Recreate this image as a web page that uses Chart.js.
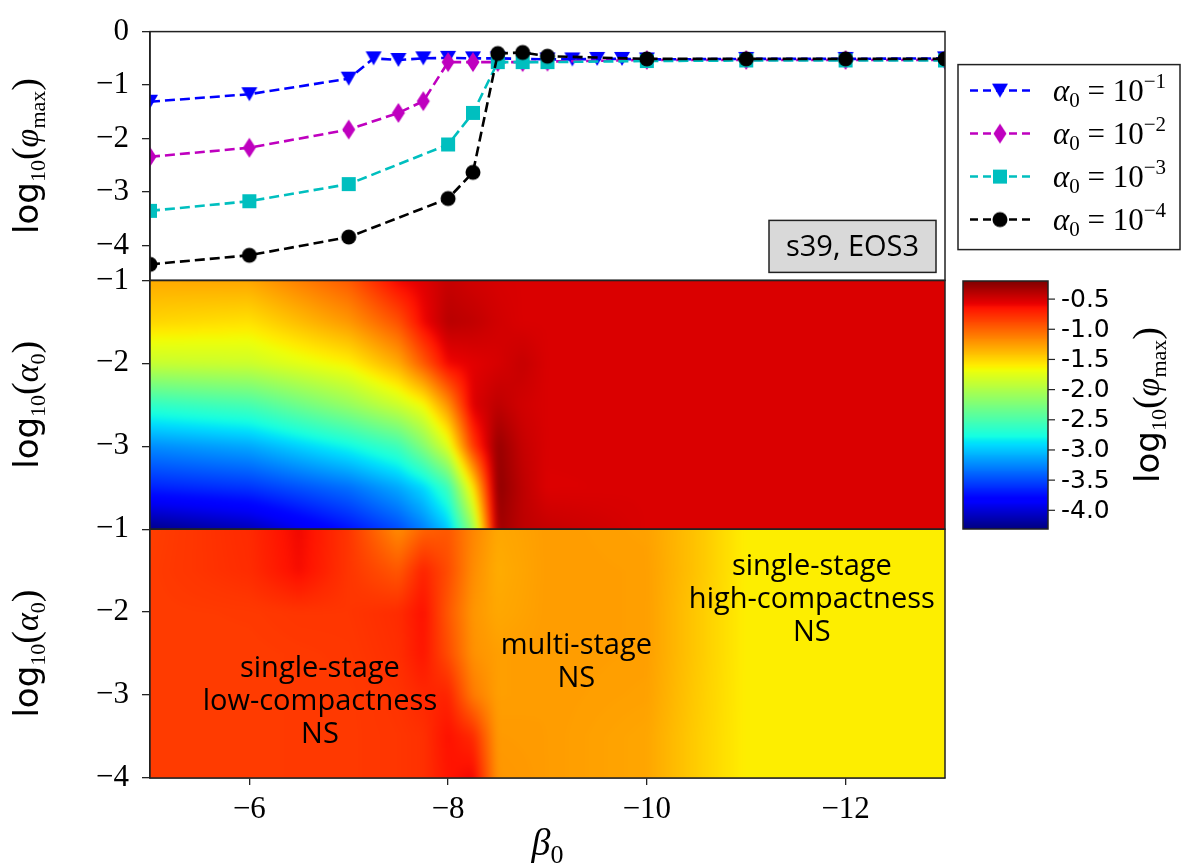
<!DOCTYPE html>
<html>
<head>
<meta charset="utf-8">
<title>s39, EOS3 scan</title>
<script src="https://cdn.jsdelivr.net/npm/chart.js@4.4.1/dist/chart.umd.min.js"></script>
<style>
  html, body { margin: 0; padding: 0; background: #fff; }
  canvas { display: block; }
</style>
</head>
<body>
<canvas id="scan" width="1183" height="865"></canvas>
<script>
// ---- top panel: log10(phi_max) vs beta_0 for each alpha_0 ----
const betaA1 = [-5, -6, -7, -7.25, -7.5, -7.75, -8, -8.25, -8.5, -8.75, -9, -9.25, -9.5, -9.75, -10, -11, -12, -13];
const phiA1  = [-1.31, -1.17, -0.88, -0.50, -0.53, -0.50, -0.49, -0.50, -0.50, -0.51, -0.52, -0.52, -0.51, -0.51, -0.52, -0.51, -0.51, -0.50];
const betaA2 = [-5, -6, -7, -7.5, -7.75, -8, -8.25, -8.5, -8.75, -9, -10, -11, -12, -13];
const phiA2  = [-2.34, -2.17, -1.83, -1.52, -1.30, -0.57, -0.57, -0.57, -0.57, -0.56, -0.53, -0.53, -0.53, -0.53];
const betaA3 = [-5, -6, -7, -8, -8.25, -8.5, -8.75, -9, -10, -11, -12, -13];
const phiA3  = [-3.35, -3.17, -2.85, -2.11, -1.52, -0.57, -0.57, -0.57, -0.55, -0.54, -0.54, -0.54];
const betaA4 = [-5, -6, -7, -8, -8.25, -8.5, -8.75, -9, -10, -11, -12, -13];
const phiA4  = [-4.35, -4.18, -3.84, -3.12, -2.63, -0.41, -0.39, -0.46, -0.51, -0.51, -0.51, -0.51];
const alphaExp = [1, 2, 3, 4];

// ---- middle panel: log10(phi_max) map ----
const midBeta  = [-5, -6, -7, -7.5, -7.75, -8, -8.25, -8.5, -8.75, -9, -10, -11, -12, -13];
const midAlpha = [-1, -1.5, -2, -2.5, -3, -3.5, -4];
const midPhi = [
  [-1.31, -1.29, -0.96, -0.60, -0.54, -0.45, -0.49, -0.51, -0.52, -0.52, -0.52, -0.52, -0.52, -0.52],
  [-1.50, -1.55, -1.23, -0.92, -0.60, -0.40, -0.43, -0.49, -0.52, -0.52, -0.52, -0.52, -0.52, -0.52],
  [-1.88, -1.85, -1.62, -1.31, -0.96, -0.60, -0.55, -0.51, -0.45, -0.52, -0.52, -0.52, -0.52, -0.52],
  [-2.63, -2.52, -2.12, -1.85, -1.66, -1.20, -0.53, -0.42, -0.49, -0.52, -0.52, -0.52, -0.52, -0.52],
  [-3.23, -3.12, -2.79, -2.56, -2.22, -1.77, -0.82, -0.28, -0.45, -0.52, -0.52, -0.52, -0.52, -0.52],
  [-3.67, -3.59, -3.35, -3.12, -2.93, -2.58, -1.57, -0.25, -0.42, -0.53, -0.52, -0.52, -0.52, -0.52],
  [-4.27, -4.11, -3.73, -3.49, -3.28, -2.99, -2.12, -0.31, -0.42, -0.45, -0.52, -0.52, -0.52, -0.52]
];

// ---- bottom panel: classification map ----
const botBeta  = [-5, -6, -6.5, -7, -7.5, -7.75, -8, -8.25, -8.5, -9, -10, -10.5, -11, -12, -13];
const botAlpha = [-1, -1.5, -2, -2.5, -3, -3.5, -4];
const botPhi = [
  [-0.84, -0.75, -0.60, -0.80, -1.18, -1.00, -0.95, -1.15, -1.30, -1.25, -1.27, -1.42, -1.61, -1.61, -1.61],
  [-0.83, -0.76, -0.62, -0.80, -0.95, -0.72, -0.90, -1.18, -1.32, -1.25, -1.26, -1.42, -1.61, -1.61, -1.61],
  [-0.83, -0.82, -0.80, -0.80, -0.76, -0.64, -0.95, -1.22, -1.30, -1.25, -1.26, -1.44, -1.61, -1.61, -1.61],
  [-0.83, -0.83, -0.82, -0.81, -0.77, -0.66, -0.90, -1.20, -1.26, -1.25, -1.26, -1.44, -1.61, -1.61, -1.61],
  [-0.83, -0.83, -0.82, -0.82, -0.79, -0.74, -0.72, -1.10, -1.26, -1.25, -1.27, -1.45, -1.61, -1.61, -1.61],
  [-0.83, -0.83, -0.82, -0.82, -0.80, -0.78, -0.64, -0.75, -1.24, -1.25, -1.29, -1.46, -1.61, -1.61, -1.61],
  [-0.83, -0.83, -0.82, -0.82, -0.80, -0.78, -0.66, -0.60, -1.22, -1.25, -1.29, -1.46, -1.61, -1.61, -1.61]
];

// ---- ticks ----
const xTicks = [-6, -8, -10, -12];
const topTicks = [0, -1, -2, -3, -4];
const midTicks = [-1, -2, -3];
const botTicks = [-1, -2, -3, -4];
const cbarTicks = [-0.5, -1.0, -1.5, -2.0, -2.5, -3.0, -3.5, -4.0];
const cbarMin = -4.31, cbarMax = -0.20;

const regionNotes = [
  { lines: ['single-stage', 'low-compactness', 'NS'], beta: -6.71, alpha: -2.68 },
  { lines: ['multi-stage', 'NS'], beta: -9.29, alpha: -2.41 },
  { lines: ['single-stage', 'high-compactness', 'NS'], beta: -11.66, alpha: -1.45 }
];

const SERIF = "'Liberation Serif', 'DejaVu Serif', serif";
const SANS = "'DejaVu Sans', sans-serif";
const NOTE = "'Open Sans', 'DejaVu Sans', sans-serif";

// matplotlib jet
const jetR = [[0, 0], [0.35, 0], [0.66, 1], [0.89, 1], [1, 0.5]];
const jetG = [[0, 0], [0.125, 0], [0.375, 1], [0.64, 1], [0.91, 0], [1, 0]];
const jetB = [[0, 0.5], [0.11, 1], [0.34, 1], [0.65, 0], [1, 0]];
function seg(s, t) {
  for (let i = 1; i < s.length; i++) {
    if (t <= s[i][0]) {
      const a = s[i - 1], b = s[i];
      return a[1] + (b[1] - a[1]) * (t - a[0]) / (b[0] - a[0]);
    }
  }
  return s[s.length - 1][1];
}
const LUT = [];
for (let i = 0; i < 512; i++) {
  const t = i / 511;
  LUT.push([Math.round(seg(jetR, t) * 255), Math.round(seg(jetG, t) * 255), Math.round(seg(jetB, t) * 255)]);
}
function jet(v) {
  let t = (v - cbarMin) / (cbarMax - cbarMin);
  t = Math.max(0, Math.min(1, t));
  return LUT[Math.round(t * 511)];
}

// arr is decreasing
function bracket(arr, v) {
  const n = arr.length;
  if (v >= arr[0]) return [0, 0];
  if (v <= arr[n - 1]) return [n - 2, 1];
  for (let j = 0; j < n - 1; j++) {
    if (v <= arr[j] && v >= arr[j + 1]) return [j, (arr[j] - v) / (arr[j] - arr[j + 1])];
  }
  return [n - 2, 1];
}

function paintHeat(chart, ys, betas, alphas, grid) {
  const xs = chart.scales.x, a = chart.chartArea, ctx = chart.ctx;
  const pad = 12;
  const L = Math.round(a.left), R = Math.round(a.right), T = Math.round(ys.top), B = Math.round(ys.bottom);
  const w = R - L + 2 * pad, h = B - T + 2 * pad;
  const off = document.createElement('canvas');
  off.width = w; off.height = h;
  const octx = off.getContext('2d');
  const img = octx.createImageData(w, h);
  const cols = [], rows = [];
  for (let i = 0; i < w; i++) cols.push(bracket(betas, xs.getValueForPixel(L - pad + i + 0.5)));
  for (let k = 0; k < h; k++) rows.push(bracket(alphas, ys.getValueForPixel(T - pad + k + 0.5)));
  let p = 0;
  for (let k = 0; k < h; k++) {
    const [r, fr] = rows[k];
    const g0 = grid[r], g1 = grid[r + 1];
    for (let i = 0; i < w; i++) {
      const [c, fc] = cols[i];
      const top = g0[c] + (g0[c + 1] - g0[c]) * fc;
      const bot = g1[c] + (g1[c + 1] - g1[c]) * fc;
      const col = jet(top + (bot - top) * fr);
      img.data[p++] = col[0]; img.data[p++] = col[1]; img.data[p++] = col[2]; img.data[p++] = 255;
    }
  }
  octx.putImageData(img, 0, 0);
  ctx.save();
  ctx.beginPath();
  ctx.rect(L, T, R - L, B - T);
  ctx.clip();
  ctx.filter = 'blur(3px)';
  ctx.drawImage(off, L - pad, T - pad);
  ctx.restore();
}

function markerCanvas(shape, color) {
  const c = document.createElement('canvas');
  c.width = 20; c.height = 22;
  const g = c.getContext('2d');
  const cx = 10, cy = 11;
  g.fillStyle = color;
  g.beginPath();
  if (shape === 'tri') { g.moveTo(cx - 8, cy - 7); g.lineTo(cx + 8, cy - 7); g.lineTo(cx, cy + 7); }
  else if (shape === 'dia') { g.moveTo(cx, cy - 10); g.lineTo(cx + 6.5, cy); g.lineTo(cx, cy + 10); g.lineTo(cx - 6.5, cy); }
  else if (shape === 'sq') { g.rect(cx - 7, cy - 7, 14, 14); }
  else { g.arc(cx, cy, 7.5, 0, Math.PI * 2); }
  g.closePath();
  g.fill();
  return c;
}

const series = [
  { beta: betaA1, phi: phiA1, color: '#0000ff', marker: markerCanvas('tri', '#0000ff') },
  { beta: betaA2, phi: phiA2, color: '#bf00bf', marker: markerCanvas('dia', '#bf00bf') },
  { beta: betaA3, phi: phiA3, color: '#00bfbf', marker: markerCanvas('sq', '#00bfbf') },
  { beta: betaA4, phi: phiA4, color: '#000000', marker: markerCanvas('dot', '#000000') }
];

function rich(ctx, parts, x, y, rot, align) {
  ctx.save();
  ctx.translate(x, y);
  if (rot) ctx.rotate(rot);
  ctx.textBaseline = 'alphabetic';
  ctx.textAlign = 'left';
  ctx.fillStyle = '#000';
  let total = 0;
  const widths = parts.map(p => { ctx.font = p.font; const w = ctx.measureText(p.text).width; total += w; return w; });
  let cx = align === 'left' ? 0 : -total / 2;
  parts.forEach((p, i) => { ctx.font = p.font; ctx.fillText(p.text, cx, p.dy || 0); cx += widths[i]; });
  ctx.restore();
}

function logParts(sym, sub) {
  return [
    { text: 'log', font: `34px ${SANS}` },
    { text: '10', font: `22px ${SERIF}`, dy: 7 },
    { text: '(', font: `38px ${SERIF}` },
    { text: sym, font: `italic 34px ${SERIF}` },
    { text: sub, font: `22px ${SERIF}`, dy: 7 },
    { text: ')', font: `38px ${SERIF}` }
  ];
}

function drawLegend(chart) {
  const ctx = chart.ctx, a = chart.chartArea, t = chart.scales.yTop;
  const L = a.right + 13, T = t.top + 33, W = 222, H = 185;
  ctx.save();
  ctx.fillStyle = '#fff';
  ctx.fillRect(L, T, W, H);
  ctx.strokeStyle = '#222';
  ctx.lineWidth = 1.5;
  ctx.strokeRect(L, T, W, H);
  series.forEach((s, i) => {
    const y = T + 26 + i * 43;
    ctx.strokeStyle = s.color;
    ctx.lineWidth = 2.5;
    ctx.setLineDash([8, 5]);
    ctx.beginPath();
    ctx.moveTo(L + 12, y);
    ctx.lineTo(L + 72, y);
    ctx.stroke();
    ctx.setLineDash([]);
    ctx.drawImage(s.marker, L + 42 - s.marker.width / 2, y - s.marker.height / 2);
    rich(ctx, [
      { text: 'α', font: `italic 31px ${SERIF}` },
      { text: '0', font: `21px ${SERIF}`, dy: 6 },
      { text: ' = 10', font: `31px ${SERIF}` },
      { text: '\u2212' + alphaExp[i], font: `21px ${SERIF}`, dy: -13 }
    ], L + 95, y + 10, 0, 'left');
  });
  ctx.restore();
}

function drawColorbar(chart) {
  const ctx = chart.ctx, a = chart.chartArea, m = chart.scales.yMid;
  const L = a.right + 18, R = L + 85, T = Math.round(m.top) + 1, B = Math.round(m.bottom);
  const px = v => B - (v - cbarMin) / (cbarMax - cbarMin) * (B - T);
  ctx.save();
  for (let y = T; y < B; y++) {
    const v = cbarMin + (B - y - 0.5) / (B - T) * (cbarMax - cbarMin);
    const c = jet(v);
    ctx.fillStyle = `rgb(${c[0]},${c[1]},${c[2]})`;
    ctx.fillRect(L, y, R - L, 1);
  }
  ctx.strokeStyle = '#222';
  ctx.lineWidth = 1.5;
  ctx.strokeRect(L, T, R - L, B - T);
  ctx.font = `25px ${SANS}`;
  ctx.fillStyle = '#000';
  ctx.textAlign = 'left';
  ctx.textBaseline = 'middle';
  ctx.lineWidth = 1.2;
  cbarTicks.forEach(v => {
    const y = px(v);
    ctx.beginPath();
    ctx.moveTo(R, y);
    ctx.lineTo(R + 7, y);
    ctx.stroke();
    ctx.fillText(v.toFixed(1), R + 13, y + 1);
  });
  ctx.restore();
  rich(ctx, logParts('φ', 'max'), 1159, (T + B) / 2, -Math.PI / 2);
}

function drawNotes(chart) {
  const ctx = chart.ctx, xs = chart.scales.x, ys = chart.scales.yBot;
  ctx.save();
  ctx.font = `29px ${NOTE}`;
  ctx.fillStyle = '#000';
  ctx.textAlign = 'center';
  ctx.textBaseline = 'middle';
  regionNotes.forEach(n => {
    const x = xs.getPixelForValue(n.beta), y = ys.getPixelForValue(n.alpha);
    n.lines.forEach((line, i) => ctx.fillText(line, x, y + i * 33));
  });
  ctx.restore();
}

function drawTag(chart) {
  const ctx = chart.ctx, a = chart.chartArea, t = chart.scales.yTop;
  const R = a.right - 9, B = t.bottom - 8, W = 167, H = 52;
  ctx.save();
  ctx.fillStyle = '#d9d9d9';
  ctx.fillRect(R - W, B - H, W, H);
  ctx.strokeStyle = '#222';
  ctx.lineWidth = 1.5;
  ctx.strokeRect(R - W, B - H, W, H);
  ctx.fillStyle = '#000';
  ctx.font = `29px ${NOTE}`;
  ctx.textAlign = 'center';
  ctx.textBaseline = 'middle';
  ctx.fillText('s39, EOS3', R - W / 2, B - H / 2 + 1);
  ctx.restore();
}

const panelPlugin = {
  id: 'panels',
  beforeDatasetsDraw(chart) {
    paintHeat(chart, chart.scales.yMid, midBeta, midAlpha, midPhi);
    paintHeat(chart, chart.scales.yBot, botBeta, botAlpha, botPhi);
  },
  afterDraw(chart) {
    const ctx = chart.ctx, a = chart.chartArea;
    ctx.save();
    ctx.strokeStyle = '#222';
    ctx.lineWidth = 1.5;
    ['yTop', 'yMid', 'yBot'].forEach(id => {
      const s = chart.scales[id];
      ctx.strokeRect(a.left, s.top, a.right - a.left, s.bottom - s.top);
    });
    ctx.restore();
    drawTag(chart);
    drawNotes(chart);
    drawLegend(chart);
    drawColorbar(chart);
    ['yTop', 'yMid', 'yBot'].forEach(id => {
      const s = chart.scales[id];
      const parts = id === 'yTop' ? logParts('φ', 'max') : logParts('α', '0');
      rich(ctx, parts, 38, (s.top + s.bottom) / 2, -Math.PI / 2);
    });
    rich(ctx, [
      { text: 'β', font: `italic 38px ${SERIF}` },
      { text: '0', font: `26px ${SERIF}`, dy: 8 }
    ], (a.left + a.right) / 2, 855, 0);
  }
};

const fmtTick = v => (v === 0 ? '0' : '\u2212' + Math.abs(v));

function panelAxis(min, max, ticks, weight) {
  return {
    type: 'linear', position: 'left', stack: 'panels', stackWeight: 1, weight: weight,
    min: min, max: max,
    afterBuildTicks: s => { s.ticks = ticks.map(v => ({ value: v })); },
    afterFit: s => { s.width = 150; },
    ticks: { font: { family: SERIF, size: 31 }, color: '#000', padding: 13, autoSkip: false, callback: fmtTick },
    grid: { drawOnChartArea: false, drawTicks: true, tickLength: 8, color: '#222', lineWidth: 1.3 },
    border: { display: true, color: '#222', width: 1.5 }
  };
}

new Chart(document.getElementById('scan').getContext('2d'), {
  type: 'line',
  data: {
    datasets: series.map((s, i) => ({
      label: 'alpha0 = 1e-' + alphaExp[i],
      data: s.beta.map((b, j) => ({ x: b, y: s.phi[j] })),
      yAxisID: 'yTop',
      borderColor: s.color,
      backgroundColor: s.color,
      borderWidth: 2.6,
      borderDash: [10, 5],
      tension: 0,
      fill: false,
      pointStyle: s.marker,
      pointRadius: 8,
      order: 4 - i
    }))
  },
  options: {
    responsive: false,
    devicePixelRatio: 1,
    animation: false,
    events: [],
    layout: { padding: { left: 0, top: 24, right: 238, bottom: 0 } },
    plugins: { legend: { display: false }, tooltip: { enabled: false } },
    scales: {
      x: {
        type: 'linear', position: 'bottom', reverse: true, min: -13, max: -5,
        afterBuildTicks: s => { s.ticks = xTicks.map(v => ({ value: v })); },
        afterFit: s => { s.height = 87; },
        ticks: { font: { family: SERIF, size: 31 }, color: '#000', padding: 6, autoSkip: false, maxRotation: 0, callback: fmtTick },
        grid: { drawOnChartArea: false, drawTicks: true, tickLength: 7, color: '#222', lineWidth: 1.3 },
        border: { display: true, color: '#222', width: 1.5 }
      },
      yTop: panelAxis(-4.65, 0, topTicks, 3),
      yMid: panelAxis(-4, -1, midTicks, 2),
      yBot: panelAxis(-4, -1, botTicks, 1)
    }
  },
  plugins: [panelPlugin]
});
</script>
</body>
</html>
